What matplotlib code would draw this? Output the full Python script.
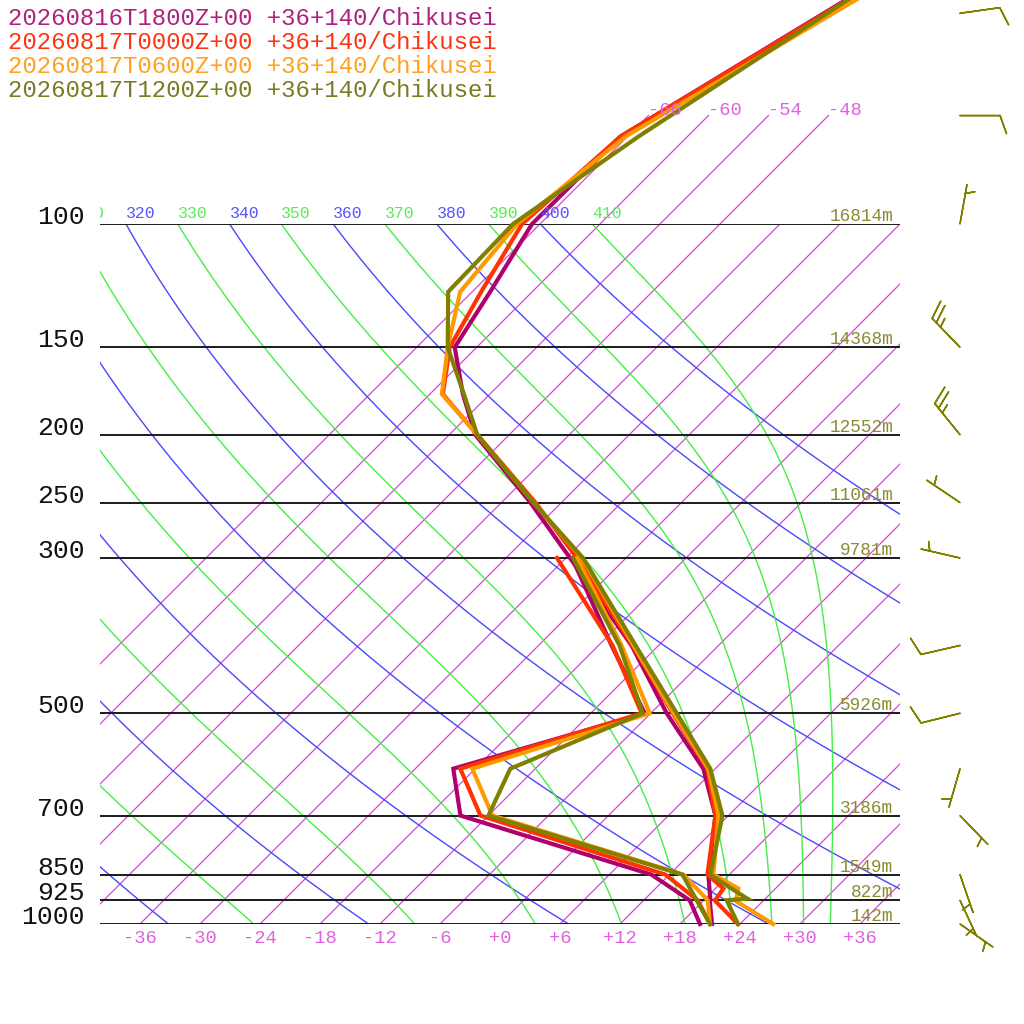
import numpy as np
import matplotlib
matplotlib.use("Agg")
import matplotlib.pyplot as plt
from matplotlib.transforms import (Affine2D, Bbox, TransformedBbox,
                                   blended_transform_factory, offset_copy)

# ---- series (T and Td in degC) ----
TITLES = [
    "20260816T1800Z+00 +36+140/Chikusei",
    "20260817T0000Z+00 +36+140/Chikusei",
    "20260817T0600Z+00 +36+140/Chikusei",
    "20260817T1200Z+00 +36+140/Chikusei",
]
LINE_COLORS = ["#b0006e", "#ff3300", "#ff9900", "#808000"]
TEXT_COLORS = ["#b02080", "#ff3311", "#ffa020", "#7a7a20"]

P_T = [1000, 925, 920, 890, 850, 700, 600, 500, 400, 300, 250, 200, 175,
       150, 125, 100, 75, 30]
T_1800 = [21.2, 18.6, 18.5, 17.4, 15.9, 10.7, 4.8, -4.4, -14.7, -29.6, -39.1,
          -51.4, -56.7, -62.2, -64.2, -66.8, -66.7, -48.6]
T_0000 = [23.8, 19.1, 19.1, 18.8, 15.8, 10.7, 5.2, -3.8, -14.6, -28.9, -38.6,
          -51.2, -58.7, -62.7, -65.1, -67.8, -66.7, -48.3]
T_0600 = [27.3, 21.1, 21.1, 20.3, 16.4, 11.0, 5.3, -3.7, -14.5, -28.4, -38.8,
          -51.2, -58.8, -62.9, -67.2, -68.3, -66.2, -47.1]
T_1200 = [23.8, 20.3, 22.2, 19.6, 16.1, 11.4, 5.5, -3.4, -14.3, -28.3, -38.8,
          -51.2, -56.6, -62.9, -68.4, -68.7, -64.9, -50.1]

P_TD = [1000, 925, 850, 700, 600, 500, 400, 300]
TD_1800 = [20.0, 16.6, 10.2, -14.8, -20.2, -6.6, -16.7, -29.4]
TD_0000 = [21.0, 17.4, 11.6, -12.8, -19.5, -6.9, -16.6, -30.9]
TD_0600 = [21.0, 18.4, 13.4, -11.6, -18.3, -6.1, -15.7, -28.9]
TD_1200 = [21.0, 17.3, 13.3, -12.0, -14.5, -6.8, -15.9, -29.3]

# wind of the last run (direction from, knots)
P_WIND = [1000, 925, 850, 700, 600, 500, 400, 300, 250, 200, 150, 100, 70, 50]
WDIR = [125, 155, 161, 136, 196, 256, 257, 283, 304, 321, 316, 10, 90, 82]
WSPD = [5, 5, 5, 5, 5, 10, 10, 5, 5, 25, 25, 5, 10, 10]

# ---- diagram background ----
P_ISOBARS = [1000, 925, 850, 700, 500, 300, 250, 200, 150, 100]
HEIGHTS = ["142m", "822m", "1549m", "3186m", "5926m", "9781m", "11061m",
           "12552m", "14368m", "16814m"]
ISOTHERMS = list(range(-66, 37, 6))
TOP_ISOTHERMS = [-66, -60, -54, -48]
TICK_TEMPS = list(range(-36, 37, 6))
DRY_THETAS = list(range(240, 401, 20))
MOIST_THETAS = list(range(250, 411, 20))
LABEL_THETAS = list(range(310, 411, 10))

KAPPA = 0.2857
RD, CPD, LV, EPS = 287.04, 1005.7, 2.501e6, 0.622
FONT = "Liberation Mono"

fig = plt.figure(figsize=(10.24, 10.24), dpi=100)
ax = fig.add_axes([100 / 1024, 100 / 1024, 800 / 1024, 700 / 1024])
ax.set_yscale("log")
ax.set_xlim(-40, 40)
ax.set_ylim(1000, 100)
ax.axis("off")

# 45 degree skew in display space, anchored at 1000 hPa
y0 = ax.transData.transform((0, 1000))[1]
skew = ax.transData + Affine2D().translate(0, -y0).skew_deg(45, 0).translate(0, y0)
edge = blended_transform_factory(ax.transAxes, ax.transData)
left_clip = TransformedBbox(Bbox([[0, -1], [3, 3]]), ax.transAxes)

pgrid = np.logspace(3, 2, 300)

# isotherms
for t in ISOTHERMS:
    ax.plot([t, t], [1000, 100], color="#dd44dd", lw=0.9, transform=skew)
for t in TOP_ISOTHERMS:
    ax.plot([t, t], [100, 70], color="#dd44dd", lw=0.9, transform=skew,
            clip_on=False)
    ax.annotate(f"{t:d}", (t, 70), xycoords=skew, xytext=(0, 0.5),
                textcoords="offset points", ha="left", va="baseline",
                color="#e060e0", fontsize=13.5, family=FONT)

# dry adiabats
for th in DRY_THETAS:
    tk = th * (pgrid / 1000.0) ** KAPPA
    ax.plot(tk - 273.15, pgrid, color="#4848ff", lw=1.0, transform=skew)


# pseudo-adiabats integrated down from 100 hPa
def moist_profile(theta):
    def rate(t, p):
        es = 6.112 * np.exp(17.67 * (t - 273.15) / (t - 29.65))
        rs = EPS * es / (p - es)
        return (RD * t + LV * rs) / (CPD + LV ** 2 * rs * EPS / (RD * t ** 2))

    ps = pgrid[::-1]
    temps = [theta * (ps[0] / 1000.0) ** KAPPA]
    for i in range(1, len(ps)):
        t = temps[-1]
        h = np.log(ps[i]) - np.log(ps[i - 1])
        pm = np.exp(np.log(ps[i - 1]) + h / 2)
        k1 = rate(t, ps[i - 1])
        k2 = rate(t + h * k1 / 2, pm)
        k3 = rate(t + h * k2 / 2, pm)
        k4 = rate(t + h * k3, ps[i])
        temps.append(t + h * (k1 + 2 * k2 + 2 * k3 + k4) / 6)
    return ps, np.array(temps)


for th in MOIST_THETAS:
    ps, tk = moist_profile(th)
    ax.plot(tk - 273.15, ps, color="#44ee44", lw=1.0, transform=skew)

# theta labels along 100 hPa (the leftmost one is cut by the diagram edge,
# so only its last digit is drawn at the spot where it would sit)
for th in LABEL_THETAS:
    col = "#5555ff" if th in DRY_THETAS else "#55ee55"
    t100 = th * 0.1 ** KAPPA - 273.15
    label, shift = str(th), 0.0
    if ax.transData.transform((t100 + 70, 100))[0] < ax.bbox.x0:
        label, shift = label[-1], 14.4
    ann = ax.annotate(label, (t100, 100), xycoords=skew, xytext=(shift, 4.3),
                      textcoords="offset points", ha="left", va="baseline",
                      color=col, fontsize=11.9, family=FONT)
    ann.set_clip_on(True)
    ann.set_clip_box(left_clip)

# isobars, pressure and height labels
hoff = offset_copy(edge, fig=fig, y=3, units="dots")
for p, hlab in zip(P_ISOBARS, HEIGHTS):
    ax.axhline(p, color="#1a1a1a", lw=1.4)
    ax.text(-15 / 800, p, str(p), transform=edge, ha="right", va="baseline",
            fontsize=19, family=FONT, color="#111111")
    ax.text(793 / 800, p, hlab, transform=hoff, ha="right", va="baseline",
            fontsize=12.8, family=FONT, color="#8a8a30")

# temperature ticks below 1000 hPa
toff = offset_copy(ax.transData, fig=fig, y=-19, units="dots")
for t in TICK_TEMPS:
    ax.text(t, 1000, f"{t:+d}", transform=toff, ha="center", va="baseline",
            fontsize=13.5, family=FONT, color="#e060e0")

# profiles
temps = [T_1800, T_0000, T_0600, T_1200]
dews = [TD_1800, TD_0000, TD_0600, TD_1200]
for tt, td, col in zip(temps, dews, LINE_COLORS):
    ax.plot(td, P_TD, color=col, lw=3.0, transform=skew, clip_on=False,
            solid_joinstyle="miter")
    ax.plot(tt, P_T, color=col, lw=3.0, transform=skew, clip_on=False,
            solid_joinstyle="miter")

# wind barbs (knots) right of the diagram
wd = np.radians(WDIR)
u = -np.array(WSPD) * np.sin(wd)
v = -np.array(WSPD) * np.cos(wd)
ax.barbs(np.full(len(P_WIND), 860 / 800), P_WIND, u, v, transform=edge,
         length=7.6, color="#808000", linewidth=1.1, clip_on=False,
         sizes=dict(spacing=0.15, height=0.45, width=0.32))

# run titles
for i, (title, col) in enumerate(zip(TITLES, TEXT_COLORS)):
    fig.text(8 / 1024, 1 - (25 + 24 * i) / 1024, title, color=col,
             fontsize=17.3, family=FONT, ha="left", va="baseline")

fig.savefig("out.png", dpi=100)
